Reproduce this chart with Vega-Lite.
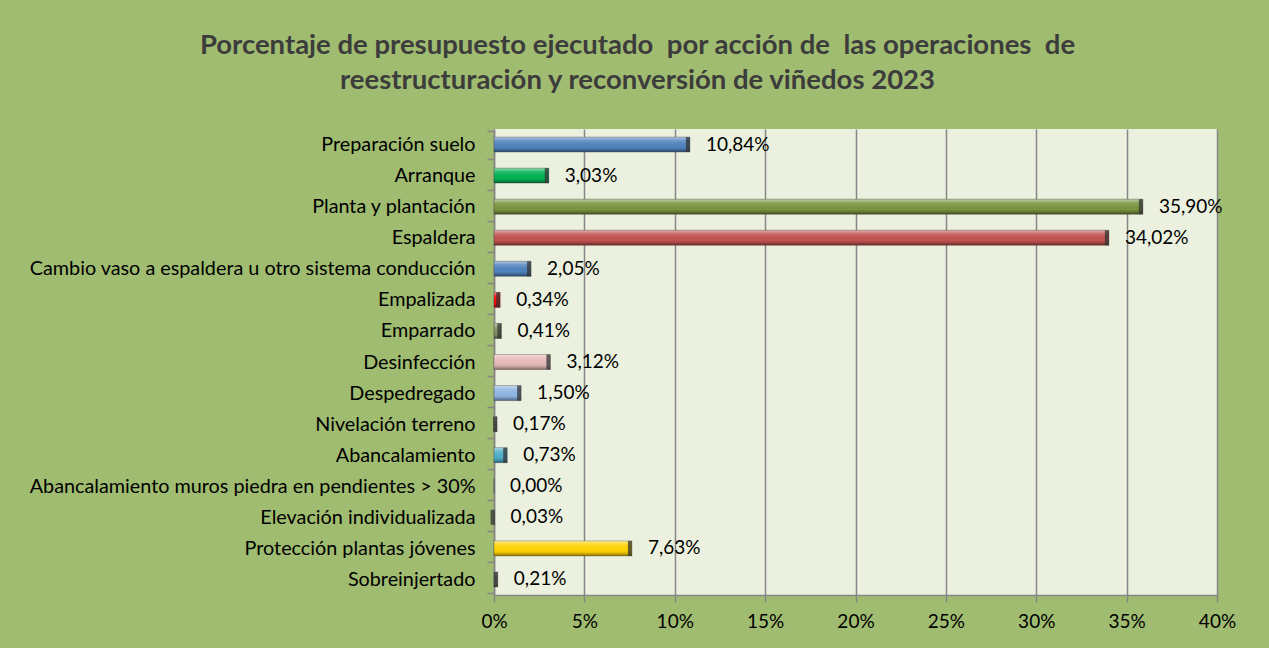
{
  "$schema": "https://vega.github.io/schema/vega-lite/v6.json",
  "width": 723,
  "height": 466,
  "autosize": {"type": "none"},
  "padding": {"left": 494, "top": 129, "right": 52, "bottom": 53},
  "background": "#A0BC70",
  "title": {
    "text": ["Porcentaje de presupuesto ejecutado\u00a0 por acción de\u00a0 las operaciones\u00a0 de", "reestructuración y reconversión de viñedos 2023"],
    "font": "Lato",
    "fontSize": 27.5,
    "fontWeight": "bold",
    "color": "#3C3C3C",
    "anchor": "middle",
    "frame": "group",
    "dx": -218,
    "lineHeight": 35,
    "offset": 25
  },
  "data": {
    "values": [
      {"accion": "Preparación suelo", "valor": 0.1084},
      {"accion": "Arranque", "valor": 0.0303},
      {"accion": "Planta y plantación", "valor": 0.3590},
      {"accion": "Espaldera", "valor": 0.3402},
      {"accion": "Cambio vaso a espaldera u otro sistema conducción", "valor": 0.0205},
      {"accion": "Empalizada", "valor": 0.0034},
      {"accion": "Emparrado", "valor": 0.0041},
      {"accion": "Desinfección", "valor": 0.0312},
      {"accion": "Despedregado", "valor": 0.0150},
      {"accion": "Nivelación terreno", "valor": 0.0017},
      {"accion": "Abancalamiento\u00a0", "valor": 0.0073},
      {"accion": "Abancalamiento muros piedra en pendientes > 30%", "valor": 0.0},
      {"accion": "Elevación individualizada", "valor": 0.0003},
      {"accion": "Protección plantas jóvenes", "valor": 0.0763},
      {"accion": "Sobreinjertado\u00a0", "valor": 0.0021}
    ]
  },
  "encoding": {
    "y": {
      "field": "accion",
      "type": "nominal",
      "sort": null,
      "axis": {
        "title": null,
        "labelFont": "Lato",
        "labelFontSize": 19.8,
        "labelColor": "#000000",
        "labelLimit": 0,
        "labelPadding": 12,
        "tickBand": "extent",
        "tickSize": 7,
        "tickColor": "#868686",
        "tickWidth": 1.5,
        "domainColor": "#868686",
        "domainWidth": 1.5
      }
    },
    "x": {
      "field": "valor",
      "type": "quantitative",
      "scale": {"domain": [0, 0.4], "nice": false},
      "axis": {
        "title": null,
        "format": ".0%",
        "values": [0, 0.05, 0.1, 0.15, 0.2, 0.25, 0.3, 0.35, 0.4],
        "labelFont": "Lato",
        "labelFontSize": 19,
        "labelColor": "#000000",
        "labelPadding": 10,
        "labelFlush": false,
        "tickSize": 7,
        "tickColor": "#868686",
        "tickWidth": 1.5,
        "domainColor": "#868686",
        "domainWidth": 1.5,
        "grid": true,
        "gridColor": "#868686",
        "gridWidth": 1.5
      }
    }
  },
  "layer": [
    {
      "mark": {"type": "bar", "size": 15},
      "encoding": {
        "color": {
          "field": "accion",
          "type": "nominal",
          "legend": null,
          "scale": {
            "domain": ["Preparación suelo", "Arranque", "Planta y plantación", "Espaldera", "Cambio vaso a espaldera u otro sistema conducción", "Empalizada", "Emparrado", "Desinfección", "Despedregado", "Nivelación terreno", "Abancalamiento\u00a0", "Abancalamiento muros piedra en pendientes > 30%", "Elevación individualizada", "Protección plantas jóvenes", "Sobreinjertado\u00a0"],
            "range": ["#4F81BD", "#00B050", "#77933C", "#C0504D", "#4F81BD", "#FF0000", "#7F8F5F", "#E6B9B8", "#8DB4E2", "#808080", "#4BACC6", "#808080", "#595959", "#FFD200", "#808080"]
          }
        }
      }
    },
    {
      "mark": {
        "type": "bar",
        "size": 15,
        "stroke": "#404040",
        "strokeWidth": 0.6,
        "strokeOpacity": 0.6,
        "fill": {"gradient": "linear", "x1": 0, "y1": 0, "x2": 0, "y2": 1, "stops": [{"offset": 0, "color": "rgba(255,255,255,0.55)"}, {"offset": 0.25, "color": "rgba(255,255,255,0.15)"}, {"offset": 0.55, "color": "rgba(255,255,255,0)"}, {"offset": 0.8, "color": "rgba(0,0,0,0.12)"}, {"offset": 1, "color": "rgba(0,0,0,0.45)"}]}
      }
    },
    {
      "transform": [{"filter": "datum.valor > 0"}],
      "mark": {"type": "tick", "orient": "vertical", "size": 15, "thickness": 4, "xOffset": -2, "color": "#333333", "opacity": 0.75}
    },
    {
      "mark": {"type": "text", "align": "left", "baseline": "middle", "dx": 16, "font": "Lato", "fontSize": 19, "color": "#000000"},
      "encoding": {
        "text": {"field": "valor", "type": "quantitative", "format": ".2%"}
      }
    }
  ],
  "config": {
    "locale": {"number": {"decimal": ",", "thousands": ".", "grouping": [3], "currency": ["", " €"]}},
    "view": {"fill": "#EBF1DE", "stroke": null}
  }
}
